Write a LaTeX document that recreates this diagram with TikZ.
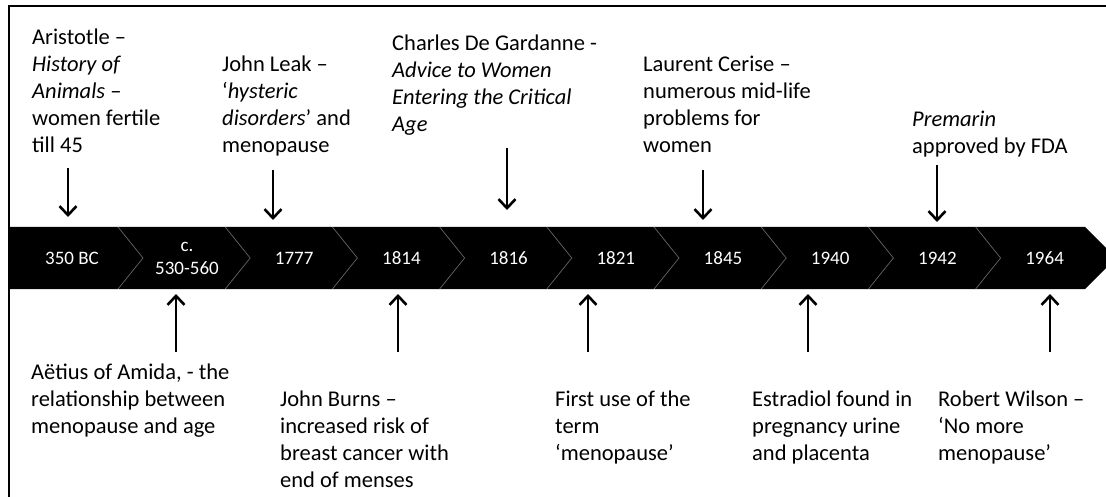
\documentclass[tikz,border=0pt]{standalone}
\usepackage{fontspec}
\setmainfont{Carlito}
\usetikzlibrary{arrows.meta}

\begin{document}
\begin{tikzpicture}[x=1pt,y=-1pt,
  note/.style={anchor=north west,align=left,inner sep=0pt,font=\fontsize{22.5}{27}\selectfont},
  year/.style={text=white,align=center,inner sep=0pt,font=\fontsize{19}{23}\selectfont},
  pointer/.style={line width=2.6pt,-{Straight Barb[length=9pt,width=17pt,line width=2.6pt]}},
  seam/.style={draw=black!60,line width=0.7pt}]
\useasboundingbox (0,0) rectangle (1106,497);
% frame
\draw[line width=2.6pt] (9,6) rectangle (1140,530);
% band
\fill (10,227) -- (1085,227) -- (1116,258) -- (1085,289) -- (10,289) -- cycle;
\foreach \i in {0,...,8}
  \draw[seam] (118+107.2*\i,227) -- ++(25,31) -- ++(-25,31);
\node[year] (y0) at (72,258) {350 BC};
\node[year] (y1) at (187,258) {c.\\530-560};
\foreach \yr [count=\i from 2] in {1777,1814,1816,1821,1845,1940,1942,1964}
  \node[year] (y\i) at ({187+107.2*(\i-1)},258) {\yr};

% top notes
\node[note] (aris) at (32,29) {Aristotle –\\\textit{History of}\\\textit{Animals} –\\women fertile\\till 45};
\node[note] (leak) at (222,56) {John Leak –\\‘\textit{hysteric}\\\textit{disorders}’ and\\menopause};
\node[note] (gard) at (392,35) {Charles De Gardanne -\\\textit{Advice to Women}\\\textit{Entering the Critical}\\\textit{Age}};
\node[note] (ceri) at (643,56) {Laurent Cerise –\\numerous mid-life\\problems for\\women};
\node[note] (prem) at (912,111) {\textit{Premarin}\\approved by FDA};

% bottom notes
\node[note] (aeti) at (31,364) {Aëtius of Amida, - the\\relationship between\\menopause and age};
\node[note] (burn) at (280,391) {John Burns –\\increased risk of\\breast cancer with\\end of menses};
\node[note] (term) at (555,391) {First use of the\\term\\‘menopause’};
\node[note] (estr) at (752,391) {Estradiol found in\\pregnancy urine\\and placenta};
\node[note] (wils) at (938,391) {Robert Wilson –\\‘No more\\menopause’};

% pointers
\foreach \n/\x/\ya/\yb in {aris/68/168/217, leak/273/170/220, gard/507/148/210,
    ceri/703/170/220, prem/937/165/222, aeti/176/352/294, burn/398/352/294,
    term/588/352/294, estr/808/352/294, wils/1050/352/294} {
  \coordinate (\n-from) at (\x,\ya);
  \coordinate (\n-to) at (\x,\yb);
  \draw[pointer] (\n-from) -- (\n-to);
}
\end{tikzpicture}
\end{document}
